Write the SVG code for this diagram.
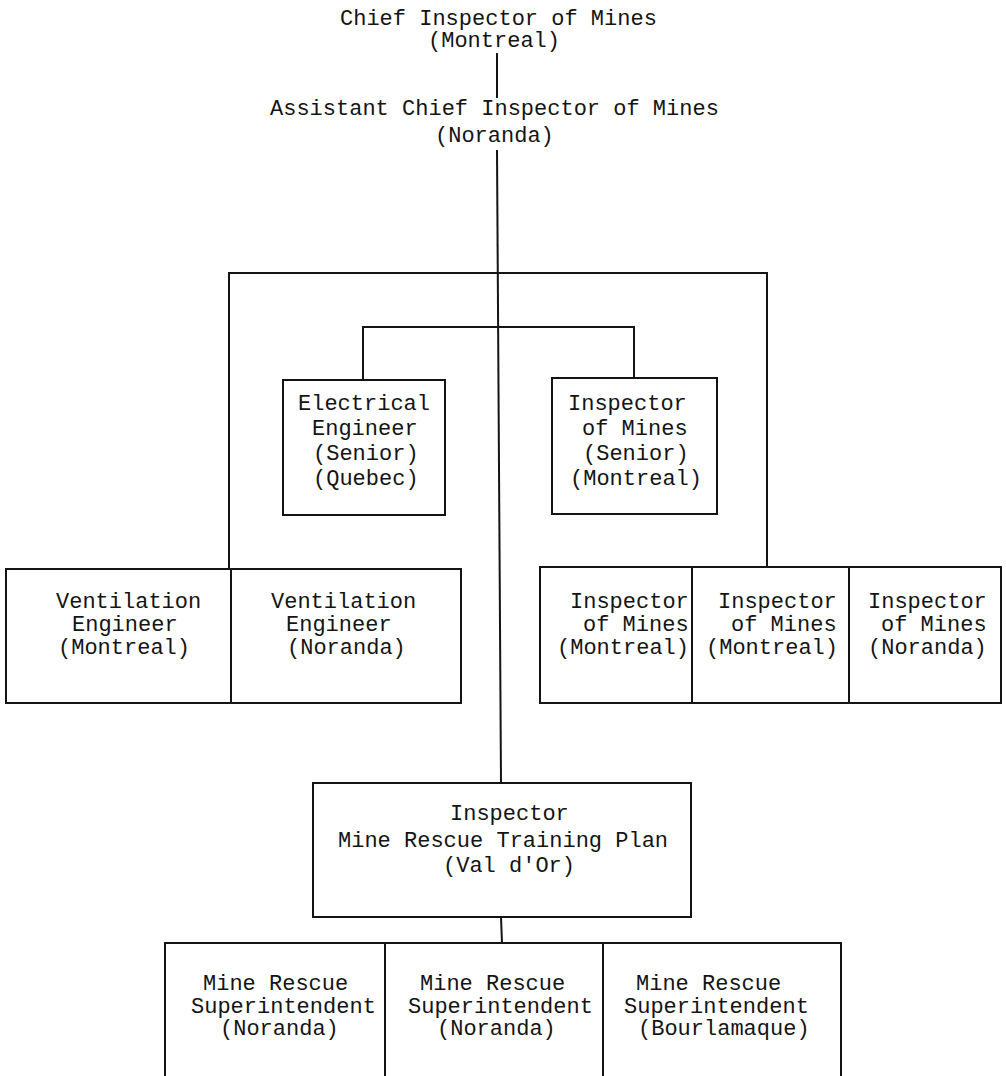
<svg xmlns="http://www.w3.org/2000/svg" width="1006" height="1076" viewBox="0 0 1006 1076">
<style>
  text { font-family: "Liberation Mono", "DejaVu Sans Mono", monospace; font-size: 22px; fill: #141414; }
  .box { fill: none; stroke: #141414; stroke-width: 2; }
  .conn line, .conn polyline { fill: none; stroke: #141414; stroke-width: 2; }
</style>
<rect x="0" y="0" width="1006" height="1076" fill="#ffffff"/>

<g id="connectors" class="conn">
  <line x1="497" y1="53" x2="497" y2="98"/>
  <line x1="497" y1="150" x2="501" y2="783"/>
  <polyline points="229,569 229,273 767,273 767,567"/>
  <polyline points="363,380 363,327 634,327 634,378"/>
  <line x1="501" y1="917" x2="502" y2="943"/>
</g>

<g id="chief">
  <text x="340" y="25">Chief Inspector of Mines</text>
  <text x="428" y="47">(Montreal)</text>
</g>

<g id="assistant">
  <text x="270" y="115">Assistant Chief Inspector of Mines</text>
  <text x="435" y="142">(Noranda)</text>
</g>

<g id="electrical-engineer">
  <rect class="box" x="283" y="380" width="162" height="135"/>
  <text x="298" y="410">Electrical</text>
  <text x="312" y="435">Engineer</text>
  <text x="313" y="460">(Senior)</text>
  <text x="313" y="485">(Quebec)</text>
</g>

<g id="inspector-senior">
  <rect class="box" x="552" y="378" width="165" height="136"/>
  <text x="568" y="410">Inspector</text>
  <text x="582" y="435">of Mines</text>
  <text x="583" y="460">(Senior)</text>
  <text x="570" y="485">(Montreal)</text>
</g>

<g id="ventilation-montreal">
  <rect class="box" x="6" y="569" width="225" height="134"/>
  <text x="56" y="608">Ventilation</text>
  <text x="72" y="631">Engineer</text>
  <text x="58" y="654">(Montreal)</text>
</g>

<g id="ventilation-noranda">
  <rect class="box" x="231" y="569" width="230" height="134"/>
  <text x="271" y="608">Ventilation</text>
  <text x="286" y="631">Engineer</text>
  <text x="287" y="654">(Noranda)</text>
</g>

<g id="inspector-montreal-1">
  <rect class="box" x="540" y="567" width="152" height="136"/>
  <text x="570" y="608">Inspector</text>
  <text x="583" y="631">of Mines</text>
  <text x="557" y="654">(Montreal)</text>
</g>

<g id="inspector-montreal-2">
  <rect class="box" x="692" y="567" width="157" height="136"/>
  <text x="718" y="608">Inspector</text>
  <text x="731" y="631">of Mines</text>
  <text x="706" y="654">(Montreal)</text>
</g>

<g id="inspector-noranda">
  <rect class="box" x="849" y="567" width="152" height="136"/>
  <text x="868" y="608">Inspector</text>
  <text x="881" y="631">of Mines</text>
  <text x="868" y="654">(Noranda)</text>
</g>

<g id="mine-rescue-inspector">
  <rect class="box" x="313" y="783" width="378" height="134"/>
  <text x="450" y="820">Inspector</text>
  <text x="338" y="847">Mine Rescue Training Plan</text>
  <text x="443" y="872">(Val d'Or)</text>
</g>

<g id="superintendent-noranda-1">
  <rect class="box" x="165" y="943" width="220" height="150"/>
  <text x="203" y="990">Mine Rescue</text>
  <text x="191" y="1013">Superintendent</text>
  <text x="220" y="1035">(Noranda)</text>
</g>

<g id="superintendent-noranda-2">
  <rect class="box" x="385" y="943" width="218" height="150"/>
  <text x="420" y="990">Mine Rescue</text>
  <text x="408" y="1013">Superintendent</text>
  <text x="437" y="1035">(Noranda)</text>
</g>

<g id="superintendent-bourlamaque">
  <rect class="box" x="603" y="943" width="238" height="150"/>
  <text x="636" y="990">Mine Rescue</text>
  <text x="624" y="1013">Superintendent</text>
  <text x="638" y="1035">(Bourlamaque)</text>
</g>
</svg>
